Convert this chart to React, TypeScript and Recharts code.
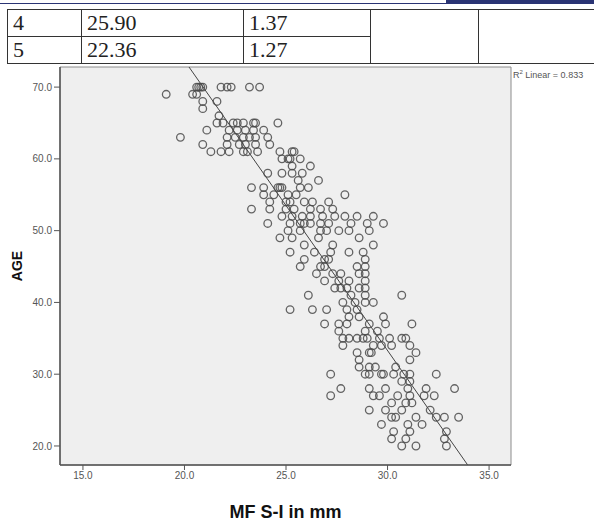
import { ReferenceArea, ReferenceLine, Scatter, ScatterChart, XAxis, YAxis } from "recharts";

const ageLevels = [
  70, 69, 68, 67, 66, 65, 64, 63, 62, 61, 60, 59, 58, 57, 56, 55, 54, 53, 52, 51, 50, 49, 48, 47, 46,
  45, 44, 43, 42, 41, 40, 39, 38, 37, 36, 35, 34, 33, 32, 31, 30, 29, 28, 27, 26, 25, 24, 23, 22, 21, 20,
];

// MF S-I readings (mm) for each age in ageLevels
const mfByAge = [
  [20.6, 20.7, 20.8, 20.9, 21.8, 22.1, 22.3, 23.2, 23.7],
  [19.1, 20.4, 20.6],
  [20.9, 21.6],
  [20.9],
  [21.7],
  [21.6, 21.9, 22.4, 22.6, 22.9, 23.4, 23.5, 24.6],
  [21.1, 22.2, 22.6, 23.0, 23.4, 23.9],
  [19.8, 22.1, 22.5, 22.9, 23.2, 23.5, 24.1],
  [20.9, 22.1, 22.7, 23.0, 23.5, 24.2],
  [21.3, 21.8, 22.2, 22.9, 23.1, 23.6, 24.7, 25.3, 25.4],
  [24.8, 25.1, 25.2, 25.7],
  [25.3, 26.2],
  [24.1, 24.8, 25.3, 25.8],
  [25.6, 26.6],
  [23.3, 23.9, 24.6, 24.7, 24.8, 25.7, 26.1],
  [23.9, 24.4, 25.1, 25.5, 27.9],
  [24.2, 25.0, 25.2, 25.9, 26.3, 27.1],
  [23.3, 24.2, 25.0, 25.4, 26.2, 26.7, 27.3],
  [24.8, 25.3, 25.8, 26.2, 26.8, 27.4, 27.9, 28.5, 29.3],
  [24.1, 25.2, 25.7, 25.9, 26.2, 26.7, 27.1, 28.2, 29.0, 29.8],
  [25.1, 25.7, 26.7, 27.0, 27.6, 28.1, 29.1],
  [24.7, 25.3, 26.6, 28.6],
  [25.9, 27.3, 29.3],
  [25.2, 26.4, 27.2, 28.1, 28.8],
  [25.9, 26.9, 27.1, 28.9],
  [25.7, 26.7, 26.9, 28.5, 28.9],
  [26.5, 27.3, 27.7, 28.6, 28.9],
  [26.9, 27.6, 28.1, 28.9],
  [27.4, 27.7, 28.0, 28.6, 28.9],
  [26.1, 28.2, 28.9, 30.7],
  [27.8, 28.4, 28.9, 29.3],
  [25.2, 26.3, 27.0, 28.0, 28.5],
  [28.1, 28.6, 29.8],
  [26.9, 27.6, 28.0, 29.1, 29.9, 31.2],
  [27.6, 28.9, 29.5],
  [27.8, 28.1, 28.5, 28.8, 29.0, 29.6, 30.1, 30.7, 30.9],
  [27.8, 29.3, 29.7, 30.2, 31.1],
  [28.5, 29.1, 29.2, 31.4],
  [28.6, 31.1],
  [28.6, 29.1, 29.4, 30.4],
  [27.2, 28.9, 29.1, 29.7, 29.8, 30.3, 30.8, 31.1, 32.4],
  [30.7, 31.1],
  [27.7, 29.1, 29.9, 31.0, 31.9, 33.3],
  [27.2, 29.3, 29.6, 30.5, 31.1, 31.8, 32.3],
  [30.2, 30.9, 31.2],
  [29.1, 29.9, 30.7, 32.1],
  [30.2, 30.4, 31.4, 32.4, 32.8, 33.5],
  [29.7, 31.0, 31.7],
  [30.3, 31.1, 32.9],
  [30.2, 30.9, 32.8],
  [30.7, 31.4, 32.9],
];

const xTicks = [15, 20, 25, 30, 35];
const yTicks = [20, 30, 40, 50, 60, 70];
const X_DOMAIN = [13.87, 36.08];
const Y_DOMAIN = [17.35, 72.8];

// fitted line, R² = 0.833
const fitIntercept = 154.5;
const fitSlope = -4.04;

const tableRows = [
  ["4", "25.90", "1.37"],
  ["5", "22.36", "1.27"],
];
const colWidths = [74, 162, 127, 108, 140];

const data = ageLevels.flatMap((age, i) => mfByAge[i].map((mf) => ({ mf, age })));

const xAt = (y: number) => (y - fitIntercept) / fitSlope;

const Ring = (props: any) => (
  <circle cx={props.cx} cy={props.cy} r={3.8} fill="none" stroke="#4a4a4a" strokeWidth={1.3} strokeOpacity={0.85} />
);

const tickStyle = { fontSize: 10, fill: "#555", fontFamily: "Arial, 'Liberation Sans', sans-serif" };
const cell = {
  border: "1px solid #333",
  padding: "0 0 0 5px",
  height: 26,
  fontFamily: "'Liberation Serif', serif",
  fontSize: 22,
  color: "#222",
  lineHeight: "26px",
  textAlign: "left" as const,
  boxSizing: "border-box" as const,
};

export default function App() {
  return (
    <div style={{ position: "absolute", left: 0, top: 0, width: 594, height: 521, background: "#fff", overflow: "hidden" }}>
      <div style={{ position: "absolute", left: 0, top: 3, width: 446, height: 1, background: "#2a3474" }} />
      <div style={{ position: "absolute", left: 446, top: 0, width: 148, height: 4, background: "#2a3474" }} />
      <table
        style={{ position: "absolute", left: 7, top: 9, borderCollapse: "collapse", tableLayout: "fixed", width: colWidths.reduce((a, b) => a + b, 0) }}
      >
        <colgroup>
          {colWidths.map((w, i) => (
            <col key={i} style={{ width: w }} />
          ))}
        </colgroup>
        <tbody>
          {tableRows.map((row, r) => (
            <tr key={r}>
              {row.map((c, j) => (
                <td key={j} style={cell}>
                  {c}
                </td>
              ))}
              {r === 0 && (
                <>
                  <td rowSpan={2} style={cell} />
                  <td rowSpan={2} style={cell} />
                </>
              )}
            </tr>
          ))}
        </tbody>
      </table>

      <div style={{ position: "absolute", left: 0, top: 0 }}>
        <ScatterChart width={594} height={521} margin={{ top: 67, right: 83, bottom: 0, left: 10 }}>
          <XAxis
            type="number"
            dataKey="mf"
            domain={X_DOMAIN}
            ticks={xTicks}
            allowDataOverflow
            height={56}
            tick={tickStyle}
            tickFormatter={(v: number) => v.toFixed(1)}
            tickSize={5}
            tickLine={{ stroke: "#555" }}
            axisLine={{ stroke: "#555", strokeWidth: 1.5 }}
            label={{
              value: "MF S-I in mm",
              position: "insideBottom",
              offset: 3,
              style: { fontSize: 18, fontWeight: "bold", fill: "#111", fontFamily: "Arial, 'Liberation Sans', sans-serif" },
            }}
          />
          <YAxis
            type="number"
            dataKey="age"
            domain={Y_DOMAIN}
            ticks={yTicks}
            allowDataOverflow
            width={50}
            tick={tickStyle}
            tickFormatter={(v: number) => v.toFixed(1)}
            tickSize={6}
            tickLine={{ stroke: "#555" }}
            axisLine={{ stroke: "#555", strokeWidth: 1.5 }}
          />
          <ReferenceArea
            x1={X_DOMAIN[0]}
            x2={X_DOMAIN[1]}
            y1={Y_DOMAIN[0]}
            y2={Y_DOMAIN[1]}
            fill="#efefef"
            fillOpacity={1}
            stroke="#8c8c8c"
            strokeWidth={1}
          />
          <ReferenceLine
            segment={[
              { x: xAt(Y_DOMAIN[1]), y: Y_DOMAIN[1] },
              { x: xAt(Y_DOMAIN[0]), y: Y_DOMAIN[0] },
            ]}
            stroke="#444"
            strokeWidth={1}
          />
          <Scatter data={data} shape={Ring} isAnimationActive={false} />
        </ScatterChart>
      </div>

      <div
        style={{
          position: "absolute",
          left: 7,
          top: 266,
          transform: "translate(-50%, -50%) rotate(-90deg)",
          fontFamily: "Arial, 'Liberation Sans', sans-serif",
          fontWeight: "bold",
          fontSize: 14,
          color: "#111",
          whiteSpace: "nowrap",
          marginLeft: 10,
        }}
      >
        AGE
      </div>
      <div
        style={{
          position: "absolute",
          left: 513,
          top: 69,
          fontFamily: "Arial, 'Liberation Sans', sans-serif",
          fontSize: 9,
          color: "#555",
          whiteSpace: "nowrap",
        }}
      >
        R<sup style={{ fontSize: 6 }}>2</sup> Linear = 0.833
      </div>
    </div>
  );
}
